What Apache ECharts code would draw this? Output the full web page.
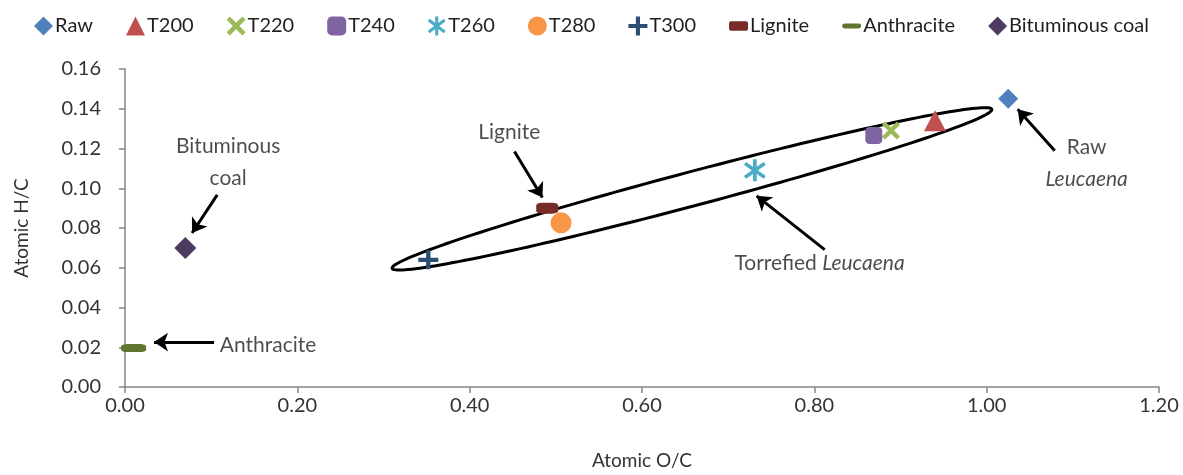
<!DOCTYPE html>
<html>
<head>
<meta charset="utf-8">
<script src="https://cdn.jsdelivr.net/npm/echarts@6/dist/echarts.min.js"></script>
<style>
  html, body { margin: 0; padding: 0; background: #fff; }
  #main { width: 1183px; height: 475px; }
</style>
</head>
<body>
<div id="main"></div>
<script>
// samples and their atomic ratios
const sampleNames = ['Raw', 'T200', 'T220', 'T240', 'T260', 'T280', 'T300', 'Lignite', 'Anthracite', 'Bituminous coal']
const atomicOC = [1.025, 0.94, 0.889, 0.869, 0.731, 0.506, 0.352, 0.49, 0.01, 0.07]
const atomicHC = [0.145, 0.134, 0.129, 0.1265, 0.109, 0.0826, 0.064, 0.090, 0.0196, 0.070]

// axis ticks
const xTicks = [0, 0.2, 0.4, 0.6, 0.8, 1.0, 1.2]
const yTicks = [0, 0.02, 0.04, 0.06, 0.08, 0.10, 0.12, 0.14, 0.16]

// annotation texts (O/C, H/C of label centre)
const noteTexts = ['Bituminous\ncoal', 'Lignite', 'Raw\n{i|Leucaena}', 'Torrefied {i|Leucaena}', 'Anthracite']
const noteX = [0.1197, 0.446, 1.116, 0.806, 0.110]
const noteY = [0.113, 0.128, 0.1128, 0.0621, 0.0208]

// arrows: tail -> head
const arrowFrom = [[0.107, 0.0967], [0.452, 0.1185], [1.079, 0.1189], [0.812, 0.0691], [0.1034, 0.0226]]
const arrowTo = [[0.0778, 0.0775], [0.4844, 0.0953], [1.036, 0.1397], [0.733, 0.0962], [0.0337, 0.0226]]

// ellipse round the torrefied samples: left tip, right tip
const ellipseTips = [0.310, 0.0597, 1.006, 0.1397]
const ellipseHalfWidth = 17

const colors = ['#4F81BD', '#C0504D', '#9BBB59', '#8064A2', '#4BACC6', '#F79646', '#2C4D75', '#772C2A', '#5F7530', '#4D3B62']

const crossPath = 'path://M1.7,0 L5,3.3 L8.3,0 L10,1.7 L6.7,5 L10,8.3 L8.3,10 L5,6.7 L1.7,10 L0,8.3 L3.3,5 L0,1.7 Z'
const plusPath = 'path://M3.9,0 H6.1 V3.9 H10 V6.1 H6.1 V10 H3.9 V6.1 H0 V3.9 H3.9 Z'
const starPath = 'path://M4.2,0 H5.8 V10 H4.2 Z M1.285,1.164 L9.685,7.564 L8.715,8.836 L0.315,2.436 Z M8.715,1.164 L9.685,2.436 L1.285,8.836 L0.315,7.564 Z'
const barPath = 'path://M0,0 M20,16 M2,3 H18 A2,2 0 0 1 20,5 V11 A2,2 0 0 1 18,13 H2 A2,2 0 0 1 0,11 V5 A2,2 0 0 1 2,3 Z'
const dashPath = 'path://M0,0 M20,16 M1.5,5 H18.5 A1.5,1.5 0 0 1 18.5,11 H1.5 A1.5,1.5 0 0 1 1.5,5 Z'

const symbols = ['diamond', 'triangle', crossPath, 'roundRect', starPath, 'circle', plusPath, 'roundRect', 'roundRect', 'diamond']
const symbolSizes = [[20, 20], [22, 21], [18, 18], [17, 17], [22, 22], [21, 21], [20, 19], [22, 11], [25, 8], [22, 22]]
const legendIcons = ['diamond', 'triangle', crossPath, 'roundRect', starPath, 'circle', plusPath, barPath, dashPath, 'diamond']

const font = 'Lato'
const textColor = '#1f1f1f'
const axisColor = '#868686'

const chart = echarts.init(document.getElementById('main'))

const scatterSeries = sampleNames.map((name, i) => ({
    name: name,
    type: 'scatter',
    data: [[atomicOC[i], atomicHC[i]]],
    symbol: symbols[i],
    symbolSize: symbolSizes[i],
    itemStyle: { color: colors[i], opacity: 1 },
    z: 5
}))

chart.setOption({
    animation: false,
    tooltip: { show: false },
    textStyle: { fontFamily: font },
    legend: {
        top: 11,
        left: 'center',
        itemWidth: 19,
        itemHeight: 19,
        itemGap: 33,
        textStyle: { fontSize: 20, color: textColor, fontFamily: font, padding: [0, 0, 0, -3] },
        data: sampleNames.map((name, i) => ({ name: name, icon: legendIcons[i] }))
    },
    grid: { left: 125, right: 24, top: 69, bottom: 82, containLabel: false },
    xAxis: {
        type: 'value',
        min: xTicks[0],
        max: xTicks[xTicks.length - 1],
        interval: 0.2,
        name: 'Atomic O/C',
        nameLocation: 'middle',
        nameGap: 64,
        nameTextStyle: { fontSize: 19, color: '#333', fontFamily: font },
        axisLine: { lineStyle: { color: axisColor, width: 1.5 } },
        axisTick: { show: true, length: 6, lineStyle: { color: axisColor, width: 1.5 } },
        axisLabel: { fontSize: 20, color: '#333', margin: 9, formatter: v => v.toFixed(2) },
        splitLine: { show: false }
    },
    yAxis: {
        type: 'value',
        min: yTicks[0],
        max: yTicks[yTicks.length - 1],
        interval: 0.02,
        name: 'Atomic H/C',
        nameLocation: 'middle',
        nameGap: 94,
        nameTextStyle: { fontSize: 19, color: '#333', fontFamily: font },
        axisLine: { show: true, lineStyle: { color: axisColor, width: 1.5 } },
        axisTick: { show: true, length: 6, lineStyle: { color: axisColor, width: 1.5 } },
        axisLabel: { fontSize: 20, color: '#333', margin: 24, formatter: v => v.toFixed(2) },
        splitLine: { show: false }
    },
    series: [
        ...scatterSeries,
        {
            name: 'ellipse',
            type: 'custom',
            silent: true,
            z: 3,
            data: [ellipseTips],
            renderItem: (params, api) => {
                const a = api.coord([api.value(0), api.value(1)])
                const b = api.coord([api.value(2), api.value(3)])
                const cx = (a[0] + b[0]) / 2, cy = (a[1] + b[1]) / 2
                const r = Math.hypot(b[0] - a[0], b[1] - a[1]) / 2
                const ang = Math.atan2(b[1] - a[1], b[0] - a[0])
                const pts = []
                for (let k = 0; k < 180; k++) {
                    const t = k / 180 * Math.PI * 2
                    const ex = r * Math.cos(t), ey = ellipseHalfWidth * Math.sin(t)
                    pts.push([cx + ex * Math.cos(ang) - ey * Math.sin(ang), cy + ex * Math.sin(ang) + ey * Math.cos(ang)])
                }
                return {
                    type: 'polygon',
                    shape: { points: pts },
                    style: { fill: 'none', stroke: '#000', lineWidth: 3 }
                }
            }
        },
        {
            name: 'arrows',
            type: 'lines',
            coordinateSystem: 'cartesian2d',
            silent: true,
            z: 4,
            symbol: ['none', 'arrow'],
            symbolSize: [12, 14],
            lineStyle: { color: '#000', width: 3, opacity: 1 },
            data: arrowFrom.map((p, i) => ({ coords: [p, arrowTo[i]] }))
        },
        {
            name: 'notes',
            type: 'scatter',
            silent: true,
            symbolSize: 0,
            data: noteTexts.map((t, i) => ({
                value: [noteX[i], noteY[i]],
                name: t,
                label: i === 4 ? { align: 'left' } : {}
            })),
            label: {
                show: true,
                position: 'inside',
                formatter: p => p.name,
                fontSize: 21,
                fontFamily: font,
                color: textColor,
                lineHeight: 32,
                align: 'center',
                rich: {
                    i: { fontStyle: 'italic', fontSize: 21, fontFamily: font, color: textColor, lineHeight: 32 }
                }
            }
        }
    ]
})
</script>
</body>
</html>
